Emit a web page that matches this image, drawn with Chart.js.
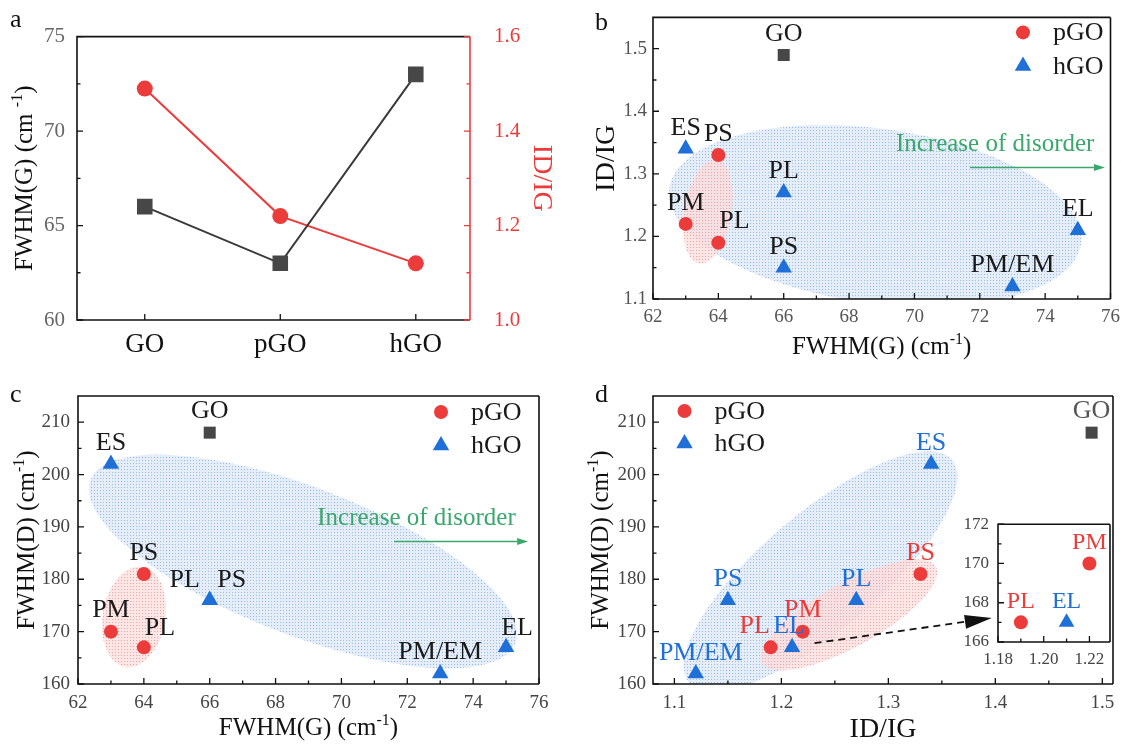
<!DOCTYPE html>
<html>
<head>
<meta charset="utf-8">
<script src="https://cdn.jsdelivr.net/npm/chart.js@4.4.1/dist/chart.umd.min.js"></script>
<style>
body{margin:0;background:#fff;width:1127px;height:746px;position:relative;overflow:hidden;font-family:'Liberation Serif',serif;}
canvas{position:absolute;}
.tag{position:absolute;font-size:26px;line-height:26px;color:#111;}
</style>
</head>
<body>
<canvas id="ChartA" width="560" height="375" style="left:0;top:0"></canvas>
<canvas id="ChartB" width="567" height="375" style="left:560px;top:0"></canvas>
<canvas id="ChartC" width="560" height="371" style="left:0;top:375px"></canvas>
<canvas id="ChartD" width="567" height="371" style="left:560px;top:375px"></canvas>
<canvas id="ChartInset" width="165" height="170" style="left:954px;top:505px"></canvas>
<div class="tag" style="left:10px;top:6px">a</div>
<div class="tag" style="left:595px;top:9px">b</div>
<div class="tag" style="left:10px;top:381px">c</div>
<div class="tag" style="left:595px;top:381px">d</div>
<script>
// ---------- values ----------
const groupNames = ['GO', 'pGO', 'hGO'];
const groupFwhmG = [66, 63, 73];
const groupRatio = [1.49, 1.22, 1.12];

const goFwhmG = [66];
const goRatio = [1.49];
const goFwhmD = [208];

const pNames = ['PM', 'PL', 'PS'];
const pFwhmG = [63, 64, 64];
const pRatio = [1.22, 1.19, 1.33];
const pFwhmD = [170, 167, 181];

const hNames = ['ES', 'PL', 'PS', 'PM/EM', 'EL'];
const hFwhmG = [63, 66, 66, 73, 75];
const hRatio = [1.34, 1.27, 1.15, 1.12, 1.21];
const hFwhmD = [202, 176, 176, 162, 167];

const aLeftTicks = [60, 65, 70, 75];
const aRightTicks = [1.0, 1.2, 1.4, 1.6];
const fwhmGTicks = [62, 64, 66, 68, 70, 72, 74, 76];
const fwhmDTicks = [160, 170, 180, 190, 200, 210];
const ratioTicks = [1.1, 1.2, 1.3, 1.4, 1.5];
const insetXTicks = [1.18, 1.20, 1.22];
const insetYTicks = [166, 168, 170, 172];

// ---------- styles ----------
const RED = '#ec3b3b', BLUE = '#1f6fd8', GREY = '#474747', GREEN = '#3aa86c';
const FONT = "'Liberation Serif', 'DejaVu Serif', serif";
Chart.defaults.font.family = FONT;
Chart.defaults.color = '#444';

const pts = (xs, ys) => xs.map((x, i) => ({x: x, y: ys[i]}));

function axis(pos, vals, min, max, size, o) {
    return {
        type: 'linear', position: pos, min: min, max: max,
        grid: {display: false, drawTicks: false},
        border: {display: false},
        afterBuildTicks: s => { s.ticks = vals.map(v => ({value: v})); },
        afterFit: s => { if (s.isHorizontal()) s.height = size; else s.width = size; },
        ticks: {
            padding: o.pad, color: o.color || '#444', font: {family: FONT, size: o.font},
            callback: o.label || (v => v.toFixed(o.dec || 0))
        }
    };
}

function marker(ctx, style, x, y, r, color) {
    ctx.fillStyle = color;
    ctx.beginPath();
    if (style === 'circle') {
        ctx.arc(x, y, r, 0, Math.PI * 2);
    } else if (style === 'triangle') {
        ctx.moveTo(x, y - r);
        ctx.lineTo(x + r * 0.866, y + r * 0.5);
        ctx.lineTo(x - r * 0.866, y + r * 0.5);
        ctx.closePath();
    } else {
        const s = r * Math.SQRT1_2;
        ctx.rect(x - s, y - s, 2 * s, 2 * s);
    }
    ctx.fill();
}

function stipple(ctx, base, dot) {
    const c = document.createElement('canvas');
    c.width = 3; c.height = 3;
    const g = c.getContext('2d');
    g.fillStyle = base; g.fillRect(0, 0, 3, 3);
    g.fillStyle = dot; g.fillRect(1, 1, 1, 1);
    return ctx.createPattern(c, 'repeat');
}

const toPx = (chart, p) => [chart.scales.x.getPixelForValue(p[0]), chart.scales.y.getPixelForValue(p[1])];

function halfSteps(major, min, max) {
    const out = [];
    for (let i = 0; i < major.length - 1; i++) out.push((major[i] + major[i + 1]) / 2);
    const step = major[1] - major[0];
    const last = major[major.length - 1] + step / 2;
    if (last < max - 1e-9) out.push(last);
    const first = major[0] - step / 2;
    if (first > min + 1e-9) out.push(first);
    return out;
}

// ---------- plugins ----------
const frame = {
    id: 'frame',
    afterDraw(chart, args, opts) {
        if (!opts.on) return;
        const {ctx, chartArea: {left, right, top, bottom}} = chart;
        ctx.save();
        ctx.lineWidth = 1.6;
        ctx.strokeStyle = '#111';
        ctx.beginPath();
        ctx.moveTo(right, top); ctx.lineTo(left, top); ctx.lineTo(left, bottom); ctx.lineTo(right, bottom);
        ctx.stroke();
        ctx.strokeStyle = opts.rightColor || '#111';
        ctx.beginPath(); ctx.moveTo(right, top); ctx.lineTo(right, bottom); ctx.stroke();
        ctx.restore();
    }
};

// ticks point into the plot area
const tickMarks = {
    id: 'tickMarks',
    afterDraw(chart, args, opts) {
        const {ctx, chartArea: ca} = chart;
        (opts.axes || []).forEach(a => {
            const s = chart.scales[a.id];
            const major = s.ticks.map(t => t.value);
            const minor = a.minor ? halfSteps(major, s.min, s.max) : [];
            ctx.save();
            ctx.strokeStyle = a.color || '#111';
            ctx.lineWidth = 1.3;
            ctx.beginPath();
            [[major, 6], [minor, 3.5]].forEach(([vals, len]) => vals.forEach(v => {
                const p = s.getPixelForValue(v);
                if (s.position === 'left') { ctx.moveTo(ca.left, p); ctx.lineTo(ca.left + len, p); }
                else if (s.position === 'right') { ctx.moveTo(ca.right, p); ctx.lineTo(ca.right - len, p); }
                else { ctx.moveTo(p, ca.bottom); ctx.lineTo(p, ca.bottom - len); }
            }));
            ctx.stroke();
            ctx.restore();
        });
    }
};

const axisTitles = {
    id: 'axisTitles',
    afterDraw(chart, args, opts) {
        const {ctx, chartArea: ca} = chart;
        (opts.items || []).forEach(t => {
            let x, y, rot = 0;
            if (t.side === 'left') { x = ca.left - t.offset; y = (ca.top + ca.bottom) / 2; rot = -Math.PI / 2; }
            else if (t.side === 'right') { x = ca.right + t.offset; y = (ca.top + ca.bottom) / 2; rot = Math.PI / 2; }
            else { x = (ca.left + ca.right) / 2; y = ca.bottom + t.offset; }
            const size = t.size || 25;
            const main = size + 'px ' + FONT, small = Math.round(size * 0.62) + 'px ' + FONT;
            ctx.save();
            ctx.translate(x, y);
            ctx.rotate(rot);
            ctx.font = main;
            const w1 = ctx.measureText(t.text).width;
            const w3 = t.after ? ctx.measureText(t.after).width : 0;
            ctx.font = small;
            const w2 = t.sup ? ctx.measureText(t.sup).width : 0;
            let cx = -(w1 + w2 + w3) / 2;
            ctx.fillStyle = t.color || '#111';
            ctx.textBaseline = 'middle';
            ctx.textAlign = 'left';
            ctx.font = main; ctx.fillText(t.text, cx, 0); cx += w1;
            if (t.sup) { ctx.font = small; ctx.fillText(t.sup, cx, -size * 0.3); cx += w2; }
            if (t.after) { ctx.font = main; ctx.fillText(t.after, cx, 0); }
            ctx.restore();
        });
    }
};

const regions = {
    id: 'regions',
    beforeDatasetsDraw(chart, args, opts) {
        if (!opts.list) return;
        const {ctx, chartArea: ca} = chart;
        ctx.save();
        ctx.beginPath(); ctx.rect(ca.left, ca.top, ca.width, ca.height); ctx.clip();
        opts.list.forEach(r => {
            const [cx, cy] = toPx(chart, r.center);
            const [ex, ey] = toPx(chart, r.end);
            const a = Math.hypot(ex - cx, ey - cy);
            ctx.beginPath();
            ctx.ellipse(cx, cy, a, a * r.ratio, Math.atan2(ey - cy, ex - cx), 0, Math.PI * 2);
            ctx.fillStyle = r.kind === 'pink'
                ? stipple(ctx, 'rgba(251,222,222,0.75)', 'rgba(238,158,158,0.9)')
                : stipple(ctx, 'rgba(224,235,247,0.85)', 'rgba(145,182,224,0.9)');
            ctx.fill();
        });
        ctx.restore();
    }
};

const pointTags = {
    id: 'pointTags',
    afterDatasetsDraw(chart) {
        const ctx = chart.ctx;
        chart.data.datasets.forEach((ds, i) => {
            if (!ds.tags) return;
            const meta = chart.getDatasetMeta(i);
            ctx.save();
            ctx.font = (ds.tagSize || 26) + 'px ' + FONT;
            ctx.textAlign = 'center';
            ctx.textBaseline = 'middle';
            ctx.fillStyle = ds.tagColor || '#1a1a1a';
            meta.data.forEach((el, j) => {
                const name = ds.tags[j];
                const sh = (ds.tagShift && ds.tagShift[name]) || [0, -21];
                ctx.fillText(name, el.x + sh[0], el.y + sh[1]);
            });
            ctx.restore();
        });
    }
};

const keyBox = {
    id: 'keyBox',
    afterDraw(chart, args, opts) {
        if (!opts.items) return;
        const {ctx, chartArea: ca} = chart;
        ctx.save();
        ctx.font = '26px ' + FONT;
        ctx.textBaseline = 'middle';
        ctx.textAlign = 'left';
        opts.items.forEach((it, i) => {
            const x = ca.left + opts.x, y = ca.top + opts.y + i * opts.dy;
            marker(ctx, it.style, x, y, it.r, it.color);
            ctx.fillStyle = '#1a1a1a';
            ctx.fillText(it.text, x + 30, y + 1);
        });
        ctx.restore();
    }
};

function arrowLine(ctx, x1, y1, x2, y2, head, half) {
    const ang = Math.atan2(y2 - y1, x2 - x1);
    const bx = x2 - head * Math.cos(ang), by = y2 - head * Math.sin(ang);
    ctx.beginPath(); ctx.moveTo(x1, y1); ctx.lineTo(bx, by); ctx.stroke();
    ctx.setLineDash([]);
    ctx.beginPath();
    ctx.moveTo(x2, y2);
    ctx.lineTo(bx + half * Math.sin(ang), by - half * Math.cos(ang));
    ctx.lineTo(bx - half * Math.sin(ang), by + half * Math.cos(ang));
    ctx.closePath(); ctx.fill();
}

const notes = {
    id: 'notes',
    afterDraw(chart, args, opts) {
        const ctx = chart.ctx;
        if (opts.text) {
            const [tx, ty] = toPx(chart, opts.at);
            ctx.save();
            ctx.font = '25px ' + FONT;
            ctx.fillStyle = GREEN; ctx.strokeStyle = GREEN;
            ctx.textAlign = 'center'; ctx.textBaseline = 'middle';
            ctx.fillText(opts.text, tx, ty);
            const [x1, y1] = toPx(chart, opts.from), [x2, y2] = toPx(chart, opts.to);
            ctx.lineWidth = 1.5;
            arrowLine(ctx, x1, y1, x2, y2, 11, 3.5);
            ctx.restore();
        }
        if (opts.dashFrom) {
            const [x1, y1] = toPx(chart, opts.dashFrom), [x2, y2] = toPx(chart, opts.dashTo);
            ctx.save();
            ctx.strokeStyle = '#111'; ctx.fillStyle = '#111';
            ctx.lineWidth = 1.8;
            ctx.setLineDash([7, 5]);
            arrowLine(ctx, x1, y1, x2, y2, 27, 7);
            ctx.restore();
        }
    }
};

const whiteArea = {
    id: 'whiteArea',
    beforeDraw(chart, args, opts) {
        if (!opts.on) return;
        const {ctx, chartArea: ca} = chart;
        ctx.save(); ctx.fillStyle = '#fff'; ctx.fillRect(ca.left, ca.top, ca.width, ca.height); ctx.restore();
    }
};

Chart.register(frame, tickMarks, axisTitles, regions, pointTags, keyBox, notes, whiteArea);

function baseOptions(padding, scales, plugins) {
    return {
        responsive: false, animation: false, events: [],
        layout: {padding: padding},
        scales: scales,
        plugins: Object.assign({legend: {display: false}, tooltip: {enabled: false}, frame: {on: true}}, plugins)
    };
}

function scatterSet(data, style, r, color, tags, extra) {
    return Object.assign({
        data: data, showLine: false, pointStyle: style, pointRadius: r,
        pointBackgroundColor: color, pointBorderWidth: 0, tags: tags
    }, extra || {});
}

const keyItems = [
    {style: 'circle', r: 7, color: RED, text: 'pGO'},
    {style: 'triangle', r: 9.5, color: BLUE, text: 'hGO'}
];
const xyTicks = {axes: [{id: 'x', minor: true}, {id: 'y', minor: true}]};

// ---------- a: FWHM(G) and ID/IG by sample ----------
new Chart(document.getElementById('ChartA'), {
    type: 'line',
    data: {
        datasets: [
            {data: pts([0, 1, 2], groupFwhmG), yAxisID: 'y', borderColor: '#3a3a3a', borderWidth: 2,
             pointStyle: 'rect', pointRadius: 11, pointBackgroundColor: GREY, pointBorderWidth: 0},
            {data: pts([0, 1, 2], groupRatio), yAxisID: 'y1', borderColor: RED, borderWidth: 2,
             pointStyle: 'circle', pointRadius: 8, pointBackgroundColor: RED, pointBorderWidth: 0}
        ]
    },
    options: baseOptions({top: 12, right: 0, bottom: 0, left: 0}, {
        x: axis('bottom', [0, 1, 2], -0.5, 2.4, 55, {pad: 9, font: 27, color: '#111', label: v => groupNames[v]}),
        y: axis('left', aLeftTicks, 60, 75, 77, {pad: 12, font: 21, color: '#666'}),
        y1: axis('right', aRightTicks, 1.0, 1.6, 90, {pad: 24, font: 21, dec: 1, color: RED})
    }, {
        frame: {on: true, rightColor: RED},
        tickMarks: {axes: [{id: 'y', minor: true}, {id: 'y1', minor: true, color: RED}, {id: 'x'}]},
        axisTitles: {items: [
            {side: 'left', offset: 52, text: 'FWHM(G) (cm ', sup: '-1', after: ')'},
            {side: 'right', offset: 71, text: 'ID/IG', color: RED, size: 28}
        ]}
    })
});

// ---------- b: ID/IG vs FWHM(G) ----------
new Chart(document.getElementById('ChartB'), {
    type: 'scatter',
    data: {
        datasets: [
            scatterSet(pts(goFwhmG, goRatio), 'rect', 8.5, GREY, ['GO']),
            scatterSet(pts(pFwhmG, pRatio), 'circle', 7, RED, pNames, {tagShift: {PL: [16, -22]}}),
            scatterSet(pts(hFwhmG, hRatio), 'triangle', 9.5, BLUE, hNames)
        ]
    },
    options: baseOptions({top: 12, right: 14, bottom: 0, left: 0}, {
        x: axis('bottom', fwhmGTicks, 62, 76, 76, {pad: 7, font: 19, color: '#555'}),
        y: axis('left', ratioTicks, 1.1, 1.55, 93, {pad: 6, font: 19, dec: 1, color: '#555'})
    }, {
        tickMarks: xyTicks,
        axisTitles: {items: [
            {side: 'left', offset: 46, text: 'ID/IG', size: 28},
            {side: 'bottom', offset: 48, text: 'FWHM(G) (cm', sup: '-1', after: ')'}
        ]},
        regions: {list: [
            {center: [68.8, 1.233], end: [75.1, 1.189], ratio: 0.42, kind: 'blue'},
            {center: [63.68, 1.24], end: [63.95, 1.323], ratio: 0.45, kind: 'pink'}
        ]},
        notes: {text: 'Increase of disorder', at: [72.47, 1.347], from: [71.7, 1.31], to: [75.83, 1.31]},
        keyBox: {x: 370, y: 15, dy: 33.5, items: keyItems}
    })
});

// ---------- c: FWHM(D) vs FWHM(G) ----------
new Chart(document.getElementById('ChartC'), {
    type: 'scatter',
    data: {
        datasets: [
            scatterSet(pts(goFwhmG, goFwhmD), 'rect', 8.5, GREY, ['GO']),
            scatterSet(pts(pFwhmG, pFwhmD), 'circle', 7, RED, pNames, {tagShift: {PL: [16, -19]}}),
            scatterSet(pts(hFwhmG, hFwhmD), 'triangle', 9.5, BLUE, hNames,
                {tagShift: {PL: [-25, -20], PS: [22, -20], EL: [11, -19]}})
        ]
    },
    options: baseOptions({top: 21, right: 21, bottom: 0, left: 0}, {
        x: axis('bottom', fwhmGTicks, 62, 76, 62, {pad: 8, font: 19}),
        y: axis('left', fwhmDTicks, 160, 215, 78, {pad: 8, font: 19})
    }, {
        tickMarks: xyTicks,
        axisTitles: {items: [
            {side: 'left', offset: 51, text: 'FWHM(D) (cm', sup: '-1', after: ')'},
            {side: 'bottom', offset: 44, text: 'FWHM(G) (cm', sup: '-1', after: ')'}
        ]},
        regions: {list: [
            {center: [68.83, 183.4], end: [75.28, 167.8], ratio: 0.325, kind: 'blue'},
            {center: [63.70, 172.8], end: [63.96, 182.35], ratio: 0.62, kind: 'pink'}
        ]},
        notes: {text: 'Increase of disorder', at: [72.28, 191.7], from: [71.6, 187.2], to: [75.67, 187.2]},
        keyBox: {x: 363, y: 16, dy: 33.5, items: keyItems}
    })
});

// ---------- d: FWHM(D) vs ID/IG ----------
new Chart(document.getElementById('ChartD'), {
    type: 'scatter',
    data: {
        datasets: [
            scatterSet(pts(goRatio, goFwhmD), 'rect', 8.5, GREY, ['GO'], {tagColor: '#555'}),
            scatterSet(pts(pRatio, pFwhmD), 'circle', 7, RED, pNames, {tagColor: RED, tagShift: {PL: [-16, -21]}}),
            scatterSet(pts(hRatio, hFwhmD), 'triangle', 9.5, BLUE, hNames,
                {tagColor: BLUE, tagShift: {EL: [-3, -21], 'PM/EM': [5, -20]}})
        ]
    },
    options: baseOptions({top: 21, right: 14, bottom: 0, left: 0}, {
        x: axis('bottom', ratioTicks, 1.08, 1.51, 62, {pad: 8, font: 19, dec: 1}),
        y: axis('left', fwhmDTicks, 160, 215, 93, {pad: 7, font: 19})
    }, {
        tickMarks: xyTicks,
        axisTitles: {items: [
            {side: 'left', offset: 52, text: 'FWHM(D) (cm', sup: '-1', after: ')'},
            {side: 'bottom', offset: 46, text: 'ID/IG', size: 28}
        ]},
        regions: {list: [
            {center: [1.2367, 181.5], end: [1.3596, 202.8], ratio: 0.34, kind: 'blue'},
            {center: [1.2631, 173.2], end: [1.3444, 182.4], ratio: 0.32, kind: 'pink'}
        ]},
        notes: {dashFrom: [1.231, 167.8], dashTo: [1.3967, 172.6]},
        keyBox: {x: 31.5, y: 15, dy: 32.5, items: keyItems}
    })
});

// ---------- d inset: crowded points near ID/IG = 1.2 ----------
const inX = [1.18, 1.229], inY = [166, 172];
const inside = (xs, ys, names) => {
    const keep = xs.map((x, i) => x >= inX[0] && x <= inX[1] && ys[i] >= inY[0] && ys[i] <= inY[1]);
    return {
        data: pts(xs.filter((x, i) => keep[i]), ys.filter((y, i) => keep[i])),
        names: names.filter((n, i) => keep[i])
    };
};
const inP = inside(pRatio, pFwhmD, pNames);
const inH = inside(hRatio, hFwhmD, hNames);

new Chart(document.getElementById('ChartInset'), {
    type: 'scatter',
    data: {
        datasets: [
            scatterSet(inP.data, 'circle', 7, RED, inP.names, {tagColor: RED, tagSize: 24}),
            scatterSet(inH.data, 'triangle', 9, BLUE, inH.names, {tagColor: BLUE, tagSize: 24})
        ]
    },
    options: baseOptions({top: 7, right: 6, bottom: 0, left: 0}, {
        x: axis('bottom', insetXTicks, inX[0], inX[1], 33, {pad: 7, font: 17, dec: 2}),
        y: axis('left', insetYTicks, inY[0], inY[1], 44, {pad: 9, font: 17})
    }, {
        whiteArea: {on: true},
        tickMarks: xyTicks
    })
});
</script>
</body>
</html>
